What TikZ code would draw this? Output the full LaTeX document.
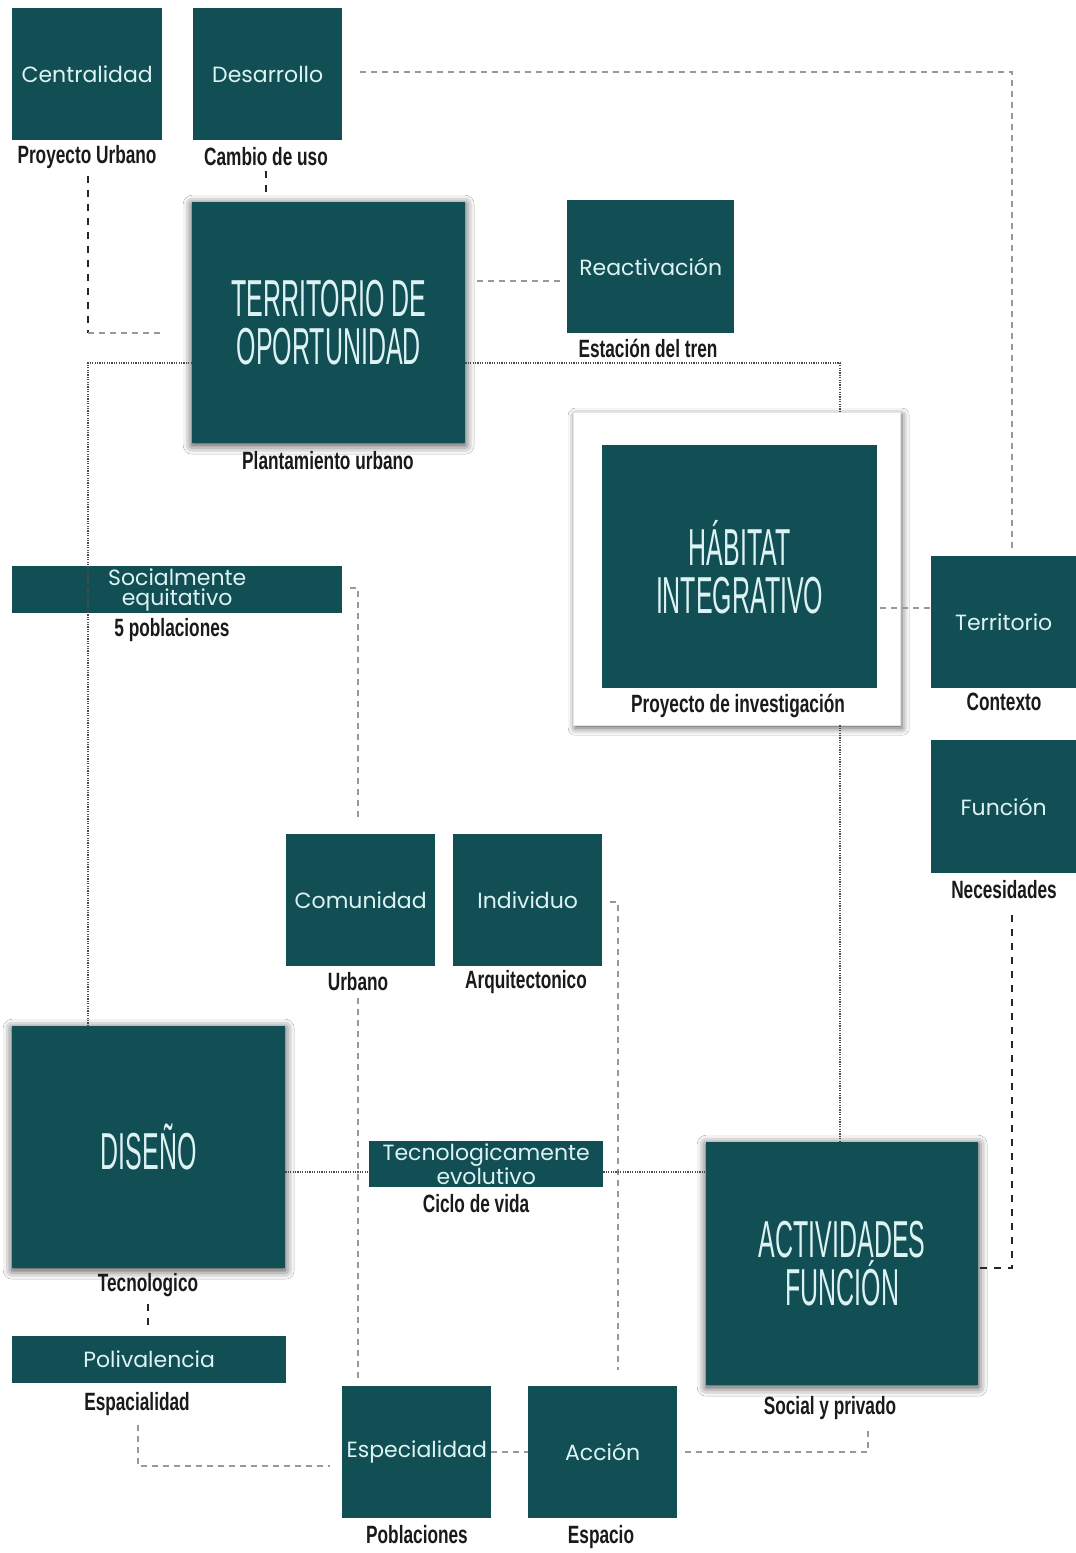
\documentclass[tikz,border=0pt]{standalone}
\usepackage{fontspec}
\usetikzlibrary{shadows.blur}
\newfontfamily\boxfont{Poppins}
\newfontfamily\labfont[FakeStretch=0.69]{Liberation Sans}
\newfontfamily\bigfont[FakeStretch=0.48]{Liberation Sans}
\definecolor{teal1}{HTML}{124F55}
\definecolor{boxtxt}{HTML}{DDF3F3}
\definecolor{labtxt}{HTML}{1A1A1A}
\tikzset{
  boxbase/.style={fill=teal1, inner sep=0pt, anchor=north west, text=boxtxt, align=center},
  box/.style={boxbase, font=\boxfont\fontsize{22}{20}\selectfont},
  bigtext/.style={boxbase, font=\bigfont\fontsize{52}{48}\selectfont},
  bigbox/.style={bigtext,
    blur shadow={shadow blur radius=9pt, shadow xshift=0pt, shadow yshift=-2pt, shadow opacity=80}},
  framebox/.style={draw=black!10, fill=white, inner sep=0pt, anchor=north west,
    blur shadow={shadow blur radius=7pt, shadow xshift=2pt, shadow yshift=-3pt, shadow opacity=65}},
  lab/.style={text=labtxt, inner sep=1pt, font=\labfont\bfseries\fontsize{25}{25}\selectfont},
  graydash/.style={draw=black!40, line width=1.2pt, dash pattern=on 6pt off 5pt},
  darkdash/.style={draw=black!85, line width=1.5pt, dash pattern=on 7pt off 7pt},
  dotline/.style={draw=black!70, line width=1.8pt, dash pattern=on 1.2pt off 1.2pt}
}
\begin{document}
\begin{tikzpicture}[x=1pt,y=-1pt]
\fill[white] (0,0) rectangle (1076,1553);
\useasboundingbox (0,0) rectangle (1076,1553);

% frame of habitat
\node[framebox, minimum width=327pt, minimum height=313pt] (habf) at (573,412) {};

% boxes
\node[box, minimum width=150pt, minimum height=132pt] (cent) at (12,8) {Centralidad};
\node[box, minimum width=149pt, minimum height=132pt] (desa) at (193,8) {Desarrollo};
\node[bigbox, minimum width=273pt, minimum height=241pt] (terr) at (192,202) {TERRITORIO DE\\OPORTUNIDAD};
\node[box, minimum width=167pt, minimum height=133pt] (reac) at (567,200) {Reactivación};
\node[bigtext, minimum width=275pt, minimum height=243pt] (hab) at (602,445) {HÁBITAT\\INTEGRATIVO};
\node[box, minimum width=145pt, minimum height=132pt] (territ) at (931,556) {Territorio};
\node[box, minimum width=145pt, minimum height=133pt] (func) at (931,740) {Función};
\node[box, minimum width=330pt, minimum height=47pt, font=\boxfont\fontsize{22}{20}\selectfont] (soc) at (12,566) {Socialmente\\equitativo};
\node[box, minimum width=149pt, minimum height=132pt] (comu) at (286,834) {Comunidad};
\node[box, minimum width=149pt, minimum height=132pt] (indi) at (453,834) {Individuo};
\node[bigbox, minimum width=273pt, minimum height=242pt] (dise) at (12,1026) {DISEÑO};
\node[box, minimum width=234pt, minimum height=46pt, font=\boxfont\fontsize{22}{17}\selectfont] (tecn) at (369,1141) {Tecnologicamente\\evolutivo};
\node[bigbox, minimum width=272pt, minimum height=243pt] (acti) at (706,1142) {ACTIVIDADES\\FUNCIÓN};
\node[box, minimum width=274pt, minimum height=47pt] (poli) at (12,1336) {Polivalencia};
\node[box, minimum width=149pt, minimum height=132pt] (espe) at (342,1386) {Especialidad};
\node[box, minimum width=149pt, minimum height=132pt] (acci) at (528,1386) {Acción};

% labels
\node[lab] (labPU) at (87,157) {Proyecto Urbano};
\node[lab] (labCU) at (266,157) {Cambio de uso};
\node[lab] (labPl) at (328,461) {Plantamiento urbano};
\node[lab] (labEt) at (648,348) {Estación del tren};
\node[lab] (labPi) at (738,706) {Proyecto de investigación};
\node[lab] (labCo) at (1004,702) {Contexto};
\node[lab] (labNe) at (1004,890) {Necesidades};
\node[lab] (lab5p) at (172,630) {5 poblaciones};
\node[lab] (labUr) at (358,982) {Urbano};
\node[lab] (labAr) at (526,982) {Arquitectonico};
\node[lab] (labTe) at (148,1285) {Tecnologico};
\node[lab] (labCv) at (476,1204) {Ciclo de vida};
\node[lab] (labSP) at (830,1408) {Social y privado};
\node[lab] (labEs) at (137,1404) {Espacialidad};
\node[lab] (labPo) at (417,1535) {Poblaciones};
\node[lab] (labEp) at (601,1537) {Espacio};

% connector coordinates
\coordinate (c1) at (88,333);
\coordinate (c3) at (1012,72);
\coordinate (c4) at (0,281);
\coordinate (c5a) at (88,363);
\coordinate (c5b) at (840,363);
\coordinate (c7) at (0,608);
\coordinate (c8) at (1012,1268);
\coordinate (c9) at (358,588);
\coordinate (c10) at (618,902);
\coordinate (c12) at (0,1172);
\coordinate (c14) at (138,1466);
\coordinate (c15) at (0,1452);
\coordinate (c16) at (868,1452);

% connectors
\draw[darkdash] ([yshift=-6pt]labPU.south -| c1) -- (c1);
\draw[graydash] (c1) -- ([xshift=-27pt]terr.west |- c1);
\draw[darkdash] ([yshift=-4pt]labCU.south) -- ([yshift=6pt]labCU.south |- terr.north);
\draw[graydash] ([xshift=18pt]desa.east |- c3) -- (c3) -- ([yshift=8pt]territ.north -| c3);
\draw[graydash] ([xshift=12pt]terr.east |- c4) -- ([xshift=-7pt]reac.west |- c4);
\draw[dotline] (dise.north -| c5a) -- (c5a) -- (terr.west |- c5a);
\draw[dotline] (terr.east |- c5b) -- (c5b) -- (habf.north -| c5b);
\draw[dotline] (habf.south -| c5b) -- (acti.north -| c5b);
\draw[graydash] ([xshift=3pt]hab.east |- c7) -- (territ.west |- c7);
\draw[darkdash] ([yshift=-15pt]labNe.south -| c8) -- (c8) -- (acti.east |- c8);
\draw[graydash] ([xshift=8pt]soc.east |- c9) -- (c9) -- ([yshift=14pt]comu.north -| c9);
\draw[graydash] ([xshift=8pt]indi.east |- c10) -- (c10) -- ([yshift=16pt]acci.north -| c10);
\draw[graydash] ([yshift=-6pt]labUr.south) -- ([yshift=4pt]espe.north -| labUr.south);
\draw[dotline] (dise.east |- c12) -- (tecn.west |- c12);
\draw[dotline] (tecn.east |- c12) -- (acti.west |- c12);
\draw[darkdash] ([yshift=-6pt]labTe.south) -- ([yshift=6pt]poli.north -| labTe.south);
\draw[graydash] ([yshift=-8pt]labEs.south -| c14) -- (c14) -- ([xshift=-12pt]espe.west |- c14);
\draw[graydash] (espe.east |- c15) -- (acci.west |- c15);
\draw[graydash] ([xshift=8pt]acci.east |- c16) -- (c16) -- ([yshift=-10pt]labSP.south -| c16);
\end{tikzpicture}
\end{document}
